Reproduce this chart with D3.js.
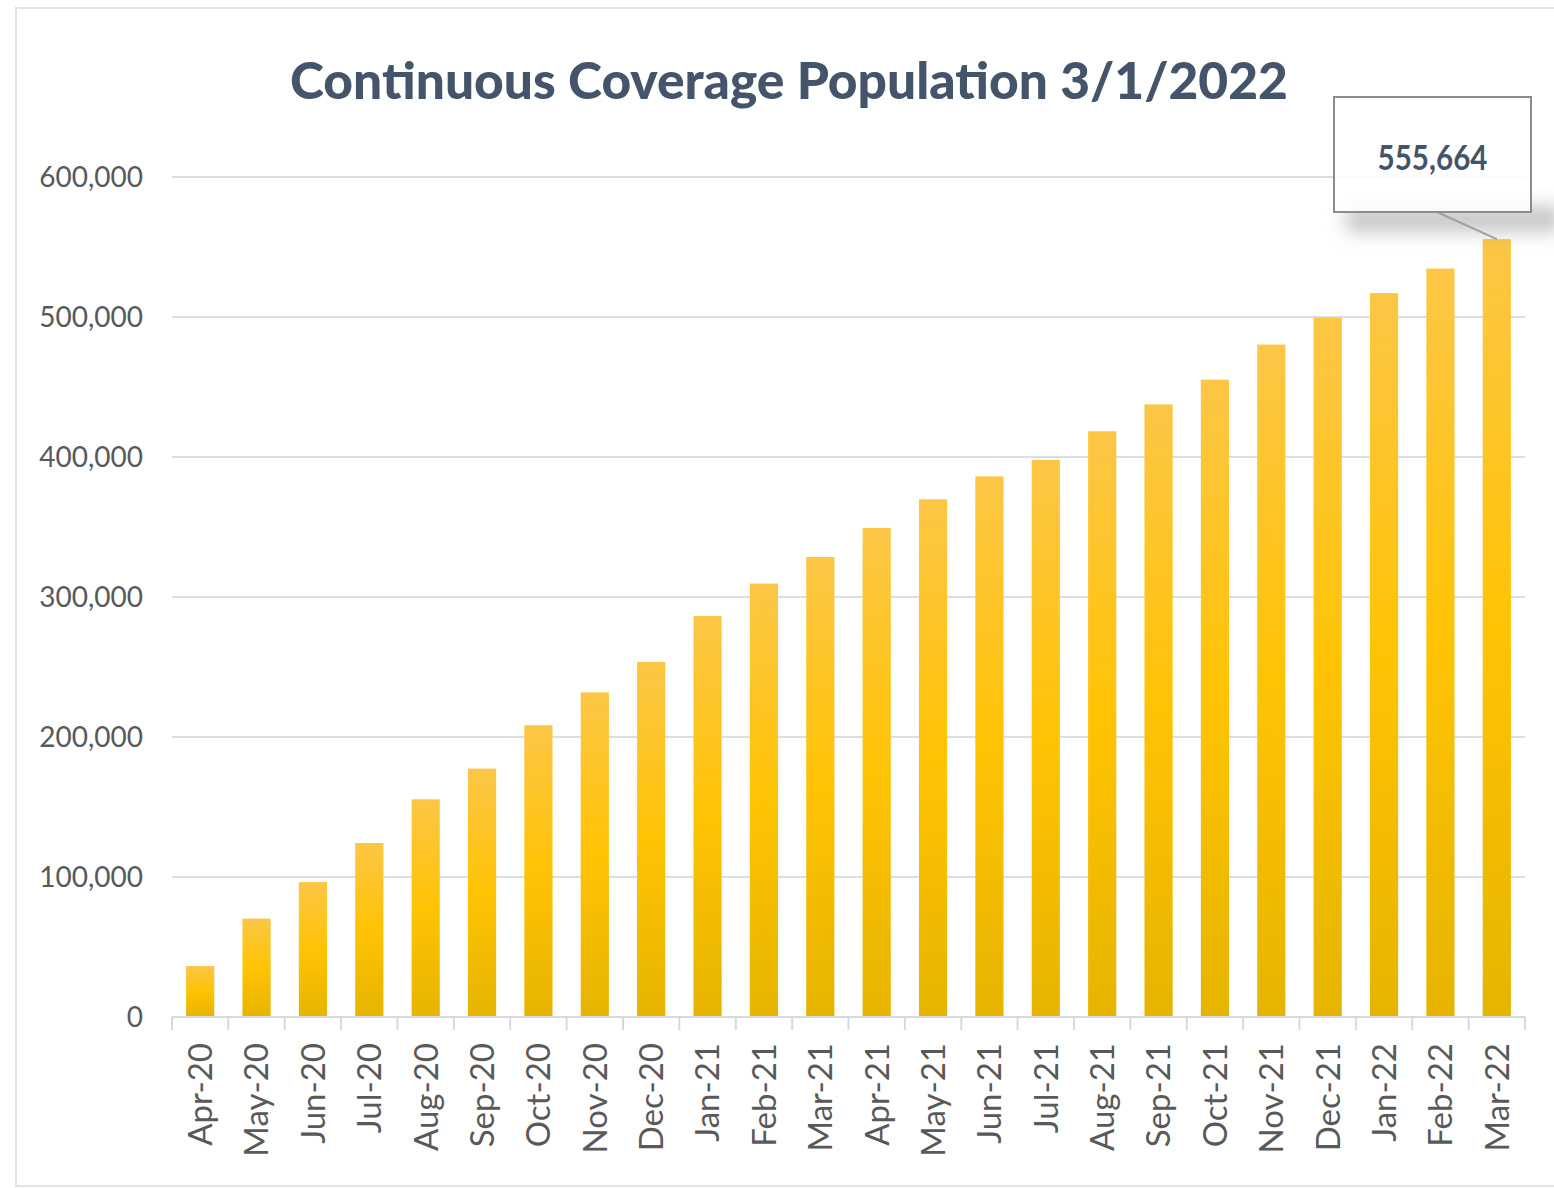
<!DOCTYPE html>
<meta charset="utf-8">
<style>
body{ margin:0; background:#fff; }
svg{ display:block; }
.ylab{ font-family: Lato, "Open Sans", sans-serif; font-size:28px; fill:#595959; }
.xlab{ font-family: Lato, "Open Sans", sans-serif; font-size:33px; fill:#595959; }
</style>
<script src="https://d3js.org/d3.v7.min.js"></script>
<svg id="chart"></svg>
<script>
// data
var months = ["Apr-20","May-20","Jun-20","Jul-20","Aug-20","Sep-20","Oct-20","Nov-20","Dec-20",
              "Jan-21","Feb-21","Mar-21","Apr-21","May-21","Jun-21","Jul-21","Aug-21","Sep-21",
              "Oct-21","Nov-21","Dec-21","Jan-22","Feb-22","Mar-22"];
var population = [36400, 70300, 96400, 124300, 155500, 177400, 208400, 231900, 253600,
                  286400, 309600, 328600, 349300, 369800, 386200, 397900, 418400, 437600,
                  455300, 480300, 499600, 517100, 534600, 555664];
var yTicks = [0, 100000, 200000, 300000, 400000, 500000, 600000];
var chartTitle = "Continuous Coverage Population 3/1/2022";

// settings
var svg_width = 1554, svg_height = 1188;
var plot = {left: 172, right: 1525, top: 177, bottom: 1017};
var svg = d3.select("#chart").attr("width", svg_width).attr("height", svg_height);

var defs = svg.append("defs");
var grad = defs.append("linearGradient").attr("id", "barGrad")
  .attr("x1", 0).attr("y1", 0).attr("x2", 0).attr("y2", 1);
grad.append("stop").attr("offset", "0%").attr("stop-color", "#fcc646");
grad.append("stop").attr("offset", "50%").attr("stop-color", "#ffc304");
grad.append("stop").attr("offset", "100%").attr("stop-color", "#e6b400");
defs.append("filter").attr("id", "blur").attr("x", "-50%").attr("y", "-100%")
  .attr("width", "200%").attr("height", "300%")
  .append("feGaussianBlur").attr("stdDeviation", 9);

// outer frame
svg.append("rect").attr("x", 16).attr("y", 8).attr("width", 1600).attr("height", 1178)
  .attr("fill", "#fff").attr("stroke", "#dfe2e8").attr("stroke-width", 2);

// scales
var x = d3.scaleBand().domain(months).range([plot.left, plot.right])
  .paddingInner(0.5).paddingOuter(0.25);
var y = d3.scaleLinear().domain([0, 600000]).range([plot.bottom, plot.top]);

// title
svg.append("text")
  .attr("x", 789).attr("y", 99)
  .attr("text-anchor", "middle")
  .attr("textLength", 998).attr("lengthAdjust", "spacingAndGlyphs")
  .style("font-family", "Lato, 'Open Sans', sans-serif")
  .style("font-weight", "900").style("font-size", "51px")
  .style("fill", "#44546a")
  .text(chartTitle);

// gridlines
svg.append("g").selectAll("line").data(yTicks.filter(d => d > 0)).enter().append("line")
  .attr("x1", plot.left).attr("x2", plot.right)
  .attr("y1", d => y(d)).attr("y2", d => y(d))
  .attr("stroke", "#dcdee5").attr("stroke-width", 2);

// y axis labels
var fmt = d3.format(",");
svg.append("g").selectAll("text").data(yTicks).enter().append("text")
  .attr("class", "ylab")
  .attr("x", 143).attr("y", d => y(d)).attr("dy", "0.36em")
  .attr("text-anchor", "end")
  .text(d => fmt(d));

// bars
svg.append("g").selectAll("rect").data(population).enter().append("rect")
  .attr("x", (d, i) => x(months[i]))
  .attr("y", d => y(d))
  .attr("width", x.bandwidth())
  .attr("height", d => y(0) - y(d))
  .attr("fill", "url(#barGrad)");

// x axis line + ticks between categories
var xAxis = svg.append("g");
xAxis.append("line").attr("x1", plot.left).attr("x2", plot.right)
  .attr("y1", y(0)).attr("y2", y(0))
  .attr("stroke", "#d5d8df").attr("stroke-width", 2);
var bounds = months.map(m => x(m) - x.step() * x.paddingOuter()).concat([plot.right]);
xAxis.selectAll(".tk").data(bounds).enter().append("line")
  .attr("x1", d => d).attr("x2", d => d)
  .attr("y1", y(0)).attr("y2", y(0) + 13)
  .attr("stroke", "#d5d8df").attr("stroke-width", 2);

// rotated month labels
xAxis.selectAll(".xlab").data(months).enter().append("text")
  .attr("class", "xlab")
  .attr("text-anchor", "end")
  .attr("dy", "0.36em")
  .attr("transform", d => "translate(" + (x(d) + x.bandwidth() / 2) + "," + 1043 + ") rotate(-90)")
  .text(d => d);

// callout for the last value
var last = population.length - 1;
var lx = x(months[last]) + x.bandwidth() / 2, ly = y(population[last]);
var box = {x: 1334, y: 97, w: 197, h: 115};
svg.append("rect").attr("x", box.x + 12).attr("y", box.y + box.h - 6).attr("width", 215).attr("height", 26)
  .attr("fill", "#9a9a9a").attr("opacity", 0.55).attr("filter", "url(#blur)");
svg.append("line").attr("x1", box.x + 103).attr("y1", box.y + box.h)
  .attr("x2", lx).attr("y2", ly)
  .attr("stroke", "#a0a0a0").attr("stroke-width", 2);
svg.append("rect").attr("x", box.x).attr("y", box.y).attr("width", box.w).attr("height", box.h)
  .attr("fill", "#fff").attr("fill-opacity", 0.85)
  .attr("stroke", "#8c8c8c").attr("stroke-width", 2);
svg.append("text")
  .attr("x", box.x + box.w / 2).attr("y", 170)
  .attr("text-anchor", "middle")
  .attr("textLength", 110).attr("lengthAdjust", "spacingAndGlyphs")
  .style("font-family", "Lato, 'Open Sans', sans-serif")
  .style("font-weight", "bold").style("font-size", "35px")
  .style("fill", "#44546a")
  .text(fmt(population[last]));
</script>
